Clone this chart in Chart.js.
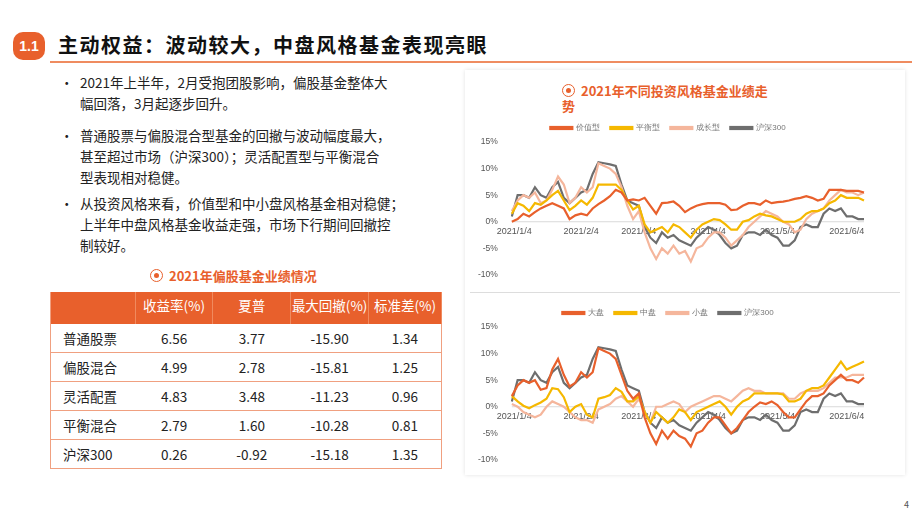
<!DOCTYPE html>
<html><head><meta charset="utf-8">
<script src="https://cdn.jsdelivr.net/npm/chart.js@4"></script>
<style>
body{margin:0;width:920px;height:518px;background:#fff;position:relative;overflow:hidden;font-family:"Noto Sans CJK SC","Liberation Sans",sans-serif;color:#222}
.abs{position:absolute}
#badge{left:13px;top:32px;width:32px;height:28px;background:#e8602c;border-radius:10px;color:#fff;font:bold 14px "Liberation Sans",sans-serif;text-align:center;line-height:28px}
#title{left:58px;top:30px;font-size:20px;font-weight:bold;letter-spacing:1.5px;color:#111;white-space:nowrap}
#hline{left:50px;top:61px;width:862px;height:2px;background:#ef8c60}
.bul{left:60px;font-size:13.5px;line-height:21px;white-space:nowrap}
.bul span.d{position:absolute;left:0}
.bul div{margin-left:20px}
table{position:absolute;left:50px;top:292px;width:392px;border-collapse:collapse;font-size:13.5px}
th{background:#e8602c;color:#fff;font-weight:normal;height:29px;text-align:center;padding:0;vertical-align:top;padding-top:3px;border-right:1px solid #f08a5e}
td{height:28px;border-bottom:1.5px solid #f0a080;text-align:center;padding:0}
td:first-child{text-align:left;padding-left:12px}
table{border-left:1.5px solid #f0a080;border-right:1.5px solid #f0a080}
.ct{color:#e8602c;font-weight:bold;font-size:13px}
.ic{display:inline-block;width:11px;height:11px;border:1.5px solid #e8602c;border-radius:50%;position:relative;vertical-align:-1px;margin-right:6px}
.ic:after{content:"";position:absolute;left:3px;top:3px;width:5px;height:5px;background:#e8602c;border-radius:50%}
#panel{left:465px;top:70px;width:440px;height:405px;box-shadow:0 0 4px rgba(0,0,0,0.12)}
</style></head><body>
<div id="badge" class="abs">1.1</div>
<div id="title" class="abs">主动权益：波动较大，中盘风格基金表现亮眼</div>
<div id="hline" class="abs"></div>
<div class="abs bul" style="top:72px"><span class="d">•</span><div>2021年上半年，2月受抱团股影响，偏股基金整体大<br>幅回落，3月起逐步回升。</div></div>
<div class="abs bul" style="top:125px"><span class="d">•</span><div>普通股票与偏股混合型基金的回撤与波动幅度最大，<br>甚至超过市场（沪深300）；灵活配置型与平衡混合<br>型表现相对稳健。</div></div>
<div class="abs bul" style="top:193px"><span class="d">•</span><div>从投资风格来看，价值型和中小盘风格基金相对稳健；<br>上半年中盘风格基金收益走强，市场下行期间回撤控<br>制较好。</div></div>
<div class="abs ct" style="left:150px;top:266px"><span class="ic"></span>2021年偏股基金业绩情况</div>
<table id="tbl"></table>
<div id="panel" class="abs"></div>
<div class="abs ct" style="left:562px;top:83px;width:220px;line-height:15px"><span class="ic"></span>2021年不同投资风格基金业绩走<br>势</div>
<div class="abs" style="left:470px;top:292px;width:430px;height:1px;background:#ddd"></div>
<div class="abs" style="left:470px;top:114px;width:398px;height:172px"><canvas id="c1"></canvas></div>
<div class="abs" style="left:470px;top:299px;width:398px;height:172px"><canvas id="c2"></canvas></div>
<div class="abs" style="left:904px;top:498px;font-size:9px;color:#555">4</div>
<script>
const tableHeaders=["","收益率(%)","夏普","最大回撤(%)","标准差(%)"];
const tableRows=["普通股票","偏股混合","灵活配置","平衡混合","沪深300"];
const tableValues=[["6.56","3.77","-15.90","1.34"],["4.99","2.78","-15.81","1.25"],["4.83","3.48","-11.23","0.96"],["2.79","1.60","-10.28","0.81"],["0.26","-0.92","-15.18","1.35"]];
const colW=[85,78,78,78,73];
let h='<tr>'+tableHeaders.map((t,i)=>`<th style="width:${colW[i]}px">${t}</th>`).join('')+'</tr>';
tableRows.forEach((r,i)=>{h+='<tr><td>'+r+'</td>'+tableValues[i].map(v=>'<td>'+v+'</td>').join('')+'</tr>';});
document.getElementById('tbl').innerHTML=h;

const tickDates={0:"2021/1/4",12:"2021/2/4",22:"2021/3/4",34:"2021/4/4",46:"2021/5/4",58:"2021/6/4"};
const labels=Array.from({length:62},(_,i)=>tickDates[i]||"");
const hs300=[1,5,5,4.5,6.5,5,4.5,6.5,7.5,4.5,3.5,4.5,5.5,6,9,11.2,11,10.8,10.5,7,4,3.5,3,-1,-3,-4,-2,-3,-2.5,-3.5,-4,-4.5,-3,-2,-1,-1.5,-2.5,-4,-5,-4.5,-2.5,-2,-2,-2.5,-1.5,-2.5,-3,-4.5,-4.5,-3.5,-1,-0.5,-1,-1,1.5,2.5,2,2.5,1,1,0.5,0.5];
const valueStyle=[0,0.5,1.5,1,1.8,2.5,3,3.5,3,2.5,0.5,1.2,1.5,1.2,2.5,3.3,4,4.8,6,5.5,4,4.2,4,4.5,3,1.5,3.5,3.6,3.8,3,1.8,2.5,3,3.3,3.5,3.5,3.5,3.2,2.2,2.3,3,3.5,3.5,3.2,4,3.5,3.7,3.8,4,4.3,4.5,4.8,4.5,4,4.3,6,6,6,5.8,5.8,5.8,5.5];
const balanced=[1.5,3.5,3,2,3.5,3.2,4,5,5.8,4,2.2,3,4,3.2,4.5,7,7,7,7,6,4,2.3,3,-0.5,-2,-1.5,-1,-2,-0.5,-1,-2,-3,-1.5,-0.5,0,0.5,0.3,-0.5,-1.5,-1.5,0,0.3,1,1.5,1.2,1,0.5,0,0,0,0.5,1.5,2,2,2.5,3.5,4,5,4.5,4.5,4.5,4];
const growth=[2,4,5,4.5,5.5,3.5,4,6,8.5,7,3.5,4.5,6.5,5.5,6.5,11,10.5,10,9,6.5,3,0.5,2,-2,-5,-7,-5,-6,-4.5,-6,-5.5,-7.5,-5,-4.5,-3,-2,-2,-3,-4.5,-3.5,-2.5,-1,0,1,2,1.5,1,0,-0.5,-2,-1.5,0.5,1.5,2,2.5,4,5,6,5.5,5.5,5,5.5];
const largeCap=[2,4,5,4.5,5,3.2,3.5,7,9,6,3.8,4.5,6.5,5.5,6.5,11,10.5,10,9,6,3,1.5,2.5,-2,-5,-7,-4.5,-6,-4.5,-5.5,-6,-7.5,-5,-4.5,-3,-2,-2,-3.5,-5,-4,-2.5,-1,0,0.8,0.5,1,0.3,-1,-2,-2,-0.5,1,2,2,2.5,4,5,6,5,5,4.5,5.5];
const midCap=[2,1,0.2,-0.3,0.3,0.8,1.5,3.5,3.3,1.8,-1,0,0.5,-1.5,-2,1.5,1.8,2.2,3.5,2.8,1,1,2,-1,-3,-1,-2,-3,-2,-0.5,-1,-2.5,-1,-0.5,0,0.5,1,0,-1.5,0,1,1.5,2.5,2.5,2.5,2.5,2.5,2.3,1,1,1.5,3,3.5,3.5,4,5.5,7,8.5,7,7.5,8,8.5];
const smallCap=[0.5,0,-1,-1.5,-2,-1.5,0,1,0.5,0,-1,-2,-2.5,-2.5,-3,-0.5,0,0.5,1.5,2,1,0,1.5,-1,-3,0,0,0.5,1,0.5,-1,0,0.5,1,1.5,2,2,1.5,1,2,3,3.5,3,3,2.5,2.5,2.5,2.5,1.5,1.5,2.5,3,3,3,3.5,4.5,5.5,5.5,5.5,6,6,6];
const yTicks=[-10,-5,0,5,10,15];
const C={o:'#e8602c',y:'#f5b800',s:'#f5b69c',g:'#6e6e6e'};

const xLab={id:'xlab',beforeDatasetsDraw(ch){const x=ch.scales.x,y=ch.scales.y,c=ch.ctx;const y0=y.getPixelForValue(0);
 c.save();c.strokeStyle='#d9d9d9';c.lineWidth=1;c.beginPath();c.moveTo(ch.chartArea.left,y0);c.lineTo(ch.chartArea.right,y0);c.stroke();
 c.fillStyle='#555';c.font='9px "Liberation Sans",sans-serif';c.textBaseline='top';
 Object.keys(tickDates).forEach(k=>{c.textAlign=k==0?'left':'center';c.fillText(tickDates[k],x.getPixelForValue(+k)-(k==0?15:0),y0+5);});c.restore();}};
function mk(id,names,series,cols){
 new Chart(document.getElementById(id),{type:'line',data:{labels,datasets:series.map((d,i)=>({label:names[i],data:d,borderColor:cols[i],backgroundColor:cols[i],borderWidth:2.2,pointRadius:0,tension:0}))},
 options:{responsive:true,maintainAspectRatio:false,animation:false,layout:{padding:{left:2,right:4,top:0,bottom:0}},
 plugins:{legend:{labels:{boxWidth:22,boxHeight:2,font:{size:8},color:'#777',padding:10}},tooltip:{enabled:false}},
 scales:{x:{grid:{display:false},border:{display:false},ticks:{display:false}},
 y:{min:-10,max:15,afterBuildTicks:a=>{a.ticks=yTicks.map(v=>({value:v}));},grid:{display:false},border:{display:false},
  ticks:{callback:v=>v+'%',color:'#555',font:{size:8.5},padding:6}}}},plugins:[xLab]});
}
mk('c1',['价值型','平衡型','成长型','沪深300'],[valueStyle,balanced,growth,hs300],[C.o,C.y,C.s,C.g]);
mk('c2',['大盘','中盘','小盘','沪深300'],[largeCap,midCap,smallCap,hs300],[C.o,C.y,C.s,C.g]);
</script></body></html>
